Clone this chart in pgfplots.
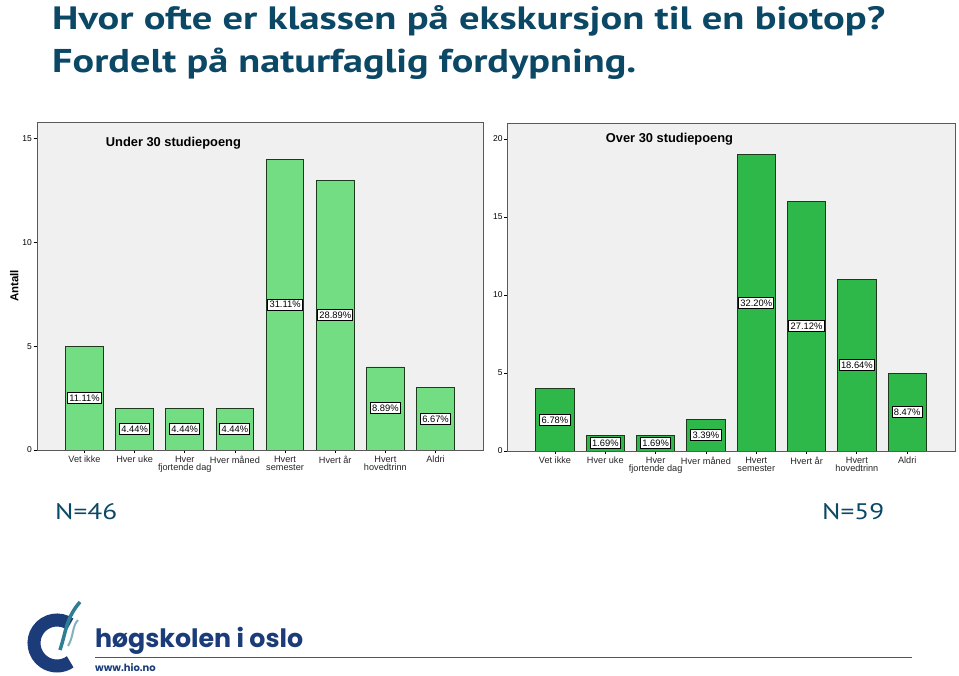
\documentclass[border=0pt]{standalone}
\usepackage{pgfplots}
\pgfplotsset{compat=1.18}
\usepackage{pgfplotstable}
\usepackage{fontspec}
\setmainfont{Liberation Sans}
\newfontfamily\titlefont{PT Sans}
\newfontfamily\logofont{Poppins}
\definecolor{bg}{HTML}{F0F0F0}
\definecolor{lgreen}{HTML}{72DD82}
\definecolor{dgreen}{HTML}{2EB84A}
\definecolor{edge}{HTML}{1E3A1E}
\definecolor{titleblue}{HTML}{0B4866}
\definecolor{navy}{HTML}{1B3C78}
\definecolor{tealc}{HTML}{2E7F95}

\pgfplotstableread{
x y p
0 5 11.11
1 2 4.44
2 2 4.44
3 2 4.44
4 14 31.11
5 13 28.89
6 4 8.89
7 3 6.67
}\tabunder
\pgfplotstableread{
x y p
0 4 6.78
1 1 1.69
2 1 1.69
3 2 3.39
4 19 32.20
5 16 27.12
6 11 18.64
7 5 8.47
}\tabover

\pgfplotsset{
 spss/.style={
  scale only axis, height=328bp,
  anchor=south west,
  ymin=0,
  axis background/.style={fill=bg},
  axis line style={draw=gray!70!black, line width=0.6bp},
  tick align=outside, tick pos=left,
  major tick length=3.5bp,
  every tick/.style={black, line width=0.8bp},
  xtick={0,...,7},
  xticklabels={Vet ikke, Hver uke, {Hver\\fjortende dag}, Hver måned, {Hvert\\semester}, Hvert år, {Hvert\\hovedtrinn}, Aldri},
  xticklabel style={align=center, font=\fontsize{9.2}{8.2}\selectfont, color=black!85, inner sep=1bp, yshift=-1bp},
  yticklabel style={font=\fontsize{8.5}{9}\selectfont, inner sep=1.5bp},
  /pgf/number format/assume math mode=true,
 },
 pct/.style={draw=none, mark=none, nodes near coords={\pgfplotspointmeta\%}, point meta=explicit symbolic,
   every node near coord/.style={anchor=center, fill=white, draw=black, line width=1bp, inner xsep=1.8bp, inner ysep=2.2bp, font=\fontsize{9.4}{9.4}\selectfont}},
}

\begin{document}
\begin{tikzpicture}
\path[use as bounding box, fill=white] (0,0) rectangle (959bp,676bp);

\begin{axis}[spss, at={(37bp,226bp)}, width=446bp,
  xmin=-0.946, xmax=7.946, ymax=15.8, ytick={0,5,10,15},
  ylabel={\bfseries Antall}, ylabel style={font=\fontsize{11.5}{12}\selectfont, yshift=-1bp}]
\addplot[ybar, bar width=37.7bp, fill=lgreen, draw=edge, line width=0.9bp] table[x=x,y=y]{\tabunder};
\addplot[pct] table[x=x, y expr=\thisrow{y}/2, meta=p]{\tabunder};
\end{axis}

\begin{axis}[spss, at={(507.7bp,225bp)}, width=447.3bp,
  xmin=-0.94, xmax=7.95, ymax=21.03, ytick={0,5,10,15,20}]
\addplot[ybar, bar width=38.3bp, fill=dgreen, draw=edge, line width=0.9bp] table[x=x,y=y]{\tabover};
\addplot[pct] table[x=x, y expr=\thisrow{y}/2, meta=p]{\tabover};
\end{axis}

\node[anchor=west, inner sep=0, font=\bfseries\fontsize{12.9}{14}\selectfont] at (105.7bp,532.7bp) {Under 30 studiepoeng};
\node[anchor=west, inner sep=0, font=\bfseries\fontsize{12.9}{14}\selectfont] at (605.7bp,537bp) {Over 30 studiepoeng};

\node[anchor=base west, inner sep=0, color=titleblue] at (52bp,646bp) {\resizebox{833bp}{24bp}{\titlefont\bfseries Hvor ofte er klassen på ekskursjon til en biotop?}};
\node[anchor=base west, inner sep=0, color=titleblue] at (52bp,603bp) {\resizebox{584bp}{24.5bp}{\titlefont\bfseries Fordelt på naturfaglig fordypning.}};

\node[anchor=base west, inner sep=0, color=titleblue] at (55bp,156bp) {\resizebox{62bp}{16bp}{\titlefont N=46}};
\node[anchor=base west, inner sep=0, color=titleblue] at (822bp,156bp) {\resizebox{62bp}{16bp}{\titlefont N=59}};

% logo
\draw[navy, line width=13bp] ([shift={(57bp,33bp)}]55:23bp) arc[start angle=55, end angle=305, radius=23bp];
\draw[tealc, line width=3.5bp] (60bp,26bp) .. controls (66bp,44bp) and (66bp,58bp) .. (80bp,74bp);
\draw[tealc!60, line width=2bp] (68bp,30bp) .. controls (74bp,40bp) and (72bp,50bp) .. (78bp,56bp);
\node[anchor=base west, inner sep=0, color=navy] at (95bp,29bp) {\resizebox{208bp}{!}{\logofont\bfseries høgskolen i oslo}};
\draw[navy!60!gray, line width=1.5bp] (95bp,18.3bp) -- (912bp,18.3bp);
\node[anchor=base west, inner sep=0, color=navy, font=\logofont\bfseries\fontsize{10}{12}\selectfont] at (95bp,4.5bp) {www.hio.no};
\end{tikzpicture}
\end{document}
